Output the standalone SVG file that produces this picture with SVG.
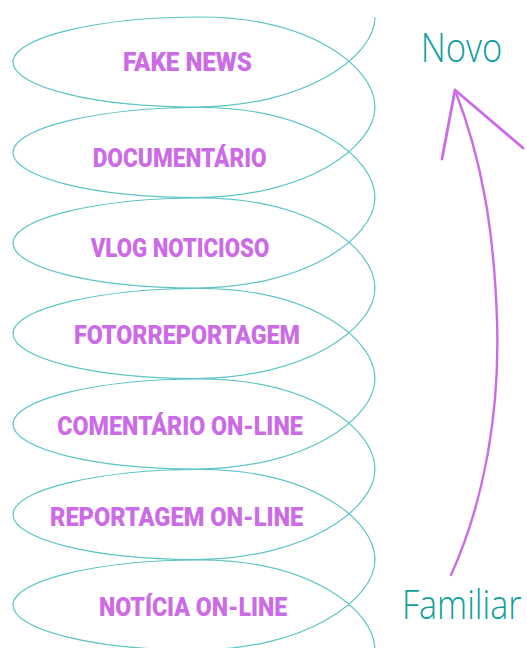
<svg xmlns="http://www.w3.org/2000/svg" width="527" height="648" viewBox="0 0 527 648">
<style>
.spiral{fill:none;stroke:#5ec4c6;stroke-width:1.2}
.lbl{font-family:Roboto,"Liberation Sans",sans-serif;font-weight:900;font-size:26px;fill:#cb6ce6}
.side{font-family:"Open Sans","Liberation Sans",sans-serif;font-weight:300;font-size:41px;fill:#0f9d9d}
.arrow{fill:none;stroke:#cb6ce6;stroke-linecap:round;stroke-linejoin:round}
</style>
<rect width="527" height="648" fill="#ffffff"/>
<g id="connectors">
<path class="spiral" d="M375,17
C375,57 305,107 195,107 C95,107 13,87 13,62 C13,37 100,17 200,17 C310,17 375,67 375,107
C375,147.5 305,197.5 195,197.5 C95,197.5 13,177.5 13,152.5 C13,127.5 100,107.5 200,107.5 C310,107.5 375,157.5 375,197.5
C375,238 305,288 195,288 C95,288 13,268 13,243 C13,218 100,198 200,198 C310,198 375,248 375,288
C375,328.5 305,378.5 195,378.5 C95,378.5 13,358.5 13,333.5 C13,308.5 100,288.5 200,288.5 C310,288.5 375,338.5 375,378.5
C375,419 305,469 195,469 C95,469 13,449 13,424 C13,399 100,379 200,379 C310,379 375,429 375,469
C375,509.5 305,559.5 195,559.5 C95,559.5 13,539.5 13,514.5 C13,489.5 100,469.5 200,469.5 C310,469.5 375,519.5 375,559.5
C375,600 305,650 195,650 C95,650 13,630 13,605 C13,580 100,560 200,560 C310,560 375,610 375,650"/>
<path class="arrow" stroke-width="2.4" d="M451,575 C485,500 500,410 497,320 C494,230 482,160 455,90"/>
<path class="arrow" stroke-width="2.8" d="M442,159 L455,90 L523,148"/>
</g>
<g id="fake-news"><text class="lbl" x="123" y="70.7" textLength="129" lengthAdjust="spacingAndGlyphs">FAKE NEWS</text></g>
<g id="documentario"><text class="lbl" x="92.7" y="166.7" textLength="174" lengthAdjust="spacingAndGlyphs">DOCUMENTÁRIO</text></g>
<g id="vlog-noticioso"><text class="lbl" x="90.7" y="256.7" textLength="178.6" lengthAdjust="spacingAndGlyphs">VLOG NOTICIOSO</text></g>
<g id="fotorreportagem"><text class="lbl" x="74" y="344" textLength="226" lengthAdjust="spacingAndGlyphs">FOTORREPORTAGEM</text></g>
<g id="comentario-online"><text class="lbl" x="57.3" y="435" textLength="245.4" lengthAdjust="spacingAndGlyphs">COMENTÁRIO ON-LINE</text></g>
<g id="reportagem-online"><text class="lbl" x="50" y="526" textLength="253.3" lengthAdjust="spacingAndGlyphs">REPORTAGEM ON-LINE</text></g>
<g id="noticia-online"><text class="lbl" x="99" y="616" textLength="188.3" lengthAdjust="spacingAndGlyphs">NOTÍCIA ON-LINE</text></g>
<g id="novo"><text class="side" x="420.7" y="62.3" textLength="81.6" lengthAdjust="spacingAndGlyphs">Novo</text></g>
<g id="familiar"><text class="side" transform="translate(402,619.3) scale(0.83,1)" x="0" y="0">Familiar</text></g>
</svg>
